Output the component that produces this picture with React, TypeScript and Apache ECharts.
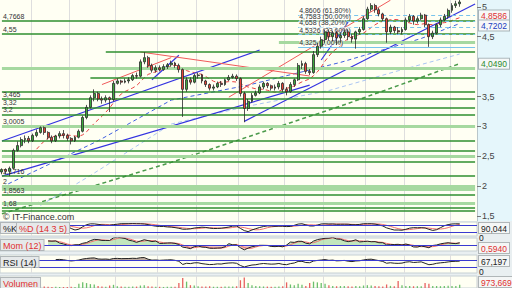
import React, { useEffect, useRef } from "react";
import * as echarts from "echarts";

// [open, close, low, high]
const candles: number[][] = [
  [2.24,2.28,2.20,2.30],[2.28,2.25,2.20,2.30],[2.25,2.30,2.17,2.33],[2.30,2.60,2.28,2.63],[2.60,2.68,2.58,2.75],
  [2.68,2.78,2.65,2.82],[2.78,2.80,2.72,2.85],[2.80,2.76,2.72,2.84],[2.76,2.85,2.74,2.88],[2.85,2.90,2.82,2.95],
  [2.90,2.98,2.88,3.00],[2.98,2.90,2.86,3.00],[2.90,2.82,2.78,2.92],[2.82,2.76,2.72,2.85],[2.76,2.84,2.74,2.86],
  [2.84,2.88,2.80,2.92],[2.88,2.85,2.80,2.94],[2.85,2.80,2.76,2.88],[2.80,2.76,2.70,2.82],[2.76,2.82,2.74,2.84],
  [2.82,2.92,2.80,2.95],[2.92,3.15,2.90,3.18],[3.15,3.32,3.12,3.36],[3.32,3.48,3.30,3.52],[3.48,3.55,3.42,3.62],
  [3.55,3.46,3.42,3.58],[3.46,3.44,3.38,3.50],[3.44,3.48,3.40,3.52],[3.48,3.45,3.24,3.50],[3.45,3.72,3.42,3.76],
  [3.72,3.76,3.70,3.80],[3.76,3.74,3.70,3.78],[3.74,3.76,3.72,3.80],[3.76,3.78,3.72,3.82],[3.78,3.85,3.76,3.88],
  [3.85,3.84,3.80,3.90],[3.84,4.08,3.82,4.12],[4.08,4.15,4.04,4.24],[4.15,4.02,3.98,4.18],[4.02,3.94,3.90,4.05],
  [3.94,3.98,3.90,4.02],[3.98,3.95,3.92,4.02],[3.95,4.00,3.93,4.04],[4.00,4.03,3.96,4.06],[4.03,4.06,4.00,4.10],
  [4.06,4.02,3.98,4.08],[4.02,3.95,3.90,4.05],[3.95,3.62,3.16,3.97],[3.62,3.78,3.58,3.82],[3.78,3.74,3.70,3.82],
  [3.74,3.85,3.72,3.88],[3.85,3.86,3.80,3.90],[3.86,3.76,3.72,3.88],[3.76,3.70,3.66,3.78],[3.70,3.64,3.60,3.72],
  [3.64,3.66,3.60,3.70],[3.66,3.72,3.64,3.75],[3.72,3.70,3.66,3.76],[3.70,3.78,3.68,3.80],[3.78,3.82,3.76,3.86],
  [3.82,3.84,3.80,3.88],[3.84,3.80,3.76,3.87],[3.80,3.55,3.50,3.82],[3.55,3.30,3.07,3.58],[3.30,3.42,3.26,3.46],
  [3.42,3.52,3.40,3.56],[3.52,3.56,3.50,3.60],[3.56,3.66,3.54,3.70],[3.66,3.72,3.62,3.75],[3.72,3.68,3.64,3.74],
  [3.68,3.64,3.60,3.70],[3.64,3.66,3.60,3.70],[3.66,3.72,3.62,3.76],[3.72,3.62,3.58,3.74],[3.62,3.58,3.52,3.66],
  [3.58,3.70,3.56,3.74],[3.70,3.78,3.66,3.80],[3.78,4.02,3.76,4.06],[4.02,4.05,3.96,4.10],[4.05,3.92,3.88,4.08],
  [3.92,3.90,3.86,3.96],[3.90,4.20,3.88,4.26],[4.20,4.34,4.16,4.40],[4.34,4.45,4.30,4.50],[4.45,4.58,4.40,4.62],
  [4.58,4.50,4.44,4.62],[4.50,4.56,4.42,4.60],[4.56,4.48,4.36,4.60],[4.48,4.52,4.40,4.56],[4.52,4.58,4.48,4.62],
  [4.58,4.50,4.44,4.62],[4.50,4.46,4.40,4.54],[4.46,4.58,4.30,4.60],[4.58,4.62,4.54,4.66],[4.62,4.80,4.60,4.84],
  [4.80,4.96,4.78,5.00],[4.96,5.02,4.92,5.06],[5.02,4.95,4.90,5.05],[4.95,4.88,4.84,4.98],[4.88,4.80,4.76,4.90],
  [4.80,4.58,4.40,4.82],[4.58,4.66,4.54,4.70],[4.66,4.60,4.56,4.68],[4.60,4.58,4.54,4.66],[4.58,4.62,4.54,4.66],
  [4.62,4.78,4.60,4.82],[4.78,4.84,4.74,4.88],[4.84,4.76,4.70,4.86],[4.76,4.80,4.72,4.84],[4.80,4.86,4.78,4.90],
  [4.86,4.70,4.66,4.88],[4.70,4.50,4.33,4.72],[4.50,4.56,4.46,4.60],[4.56,4.70,4.54,4.72],[4.70,4.78,4.66,4.82],
  [4.78,4.84,4.76,4.88],[4.84,4.94,4.80,4.97],[4.94,5.02,4.90,5.06],[5.02,5.05,4.98,5.10],[5.05,5.08,5.00,5.12],
];

const volumes: number[] = [
  150,120,180,400,300,250,200,150,180,220,250,200,160,150,170,140,130,150,160,140,
  600,800,700,550,500,300,200,180,350,450,250,200,180,170,220,200,350,400,250,200,
  180,170,150,160,180,170,700,1400,900,400,350,250,200,220,250,180,170,160,200,220,
  200,250,1100,1500,700,400,300,250,220,200,180,170,200,250,800,500,400,600,450,300,
  700,900,800,700,600,400,300,250,280,300,250,220,300,260,350,400,350,300,250,220,
  500,300,250,1000,400,300,280,250,260,240,700,600,300,280,260,300,320,300,280,450,
];

// month boundaries (candle index)
const monthStarts = [8, 18, 30, 41, 51, 62, 74, 84, 95, 105, 117];
const EXTRA_SLOTS = 4;

// horizontal support / resistance levels
const levelValues = [4.7668, 4.55, 4.41, 4.24, 3.98, 3.82, 3.585, 3.465, 3.32, 3.2, 3.0005, 2.756, 2.589, 2.5, 2.411, 2.1716, 2.0, 1.95, 1.8563, 1.715, 1.64, 1.587];
const levelStarts = [0, 0, 72, 27, 0, 23, 0, 0, 0, 0, 0, 0, 0, 0, 0, 0, 0, 0, 0, 0, 0, 0];
const levelKinds = ["d", "d", "l", "d", "l", "d", "d", "d", "d", "d", "l", "d", "d", "l", "d", "d", "l", "l", "d", "l", "d", "d"];
const levelLabels = ["4,7668", "4,55", "", "", "", "", "", "3,465", "3,32", "3,2", "3,0005", "", "", "", "", "2,1716", "2", "", "1,8563", "", "1,68", ""];

// Fibonacci retracement
const fibValues = [4.8606, 4.7583, 4.658, 4.5326, 4.325];
const fibLabels = ["4,8606 (61,80%)", "4,7583 (50,00%)", "4,658 (38,20%)", "4,5326 (23,60%)", "4,325 (0,00%)"];
const fibStart = 77;

// trend lines: [index, value] pairs
const blueTrends: number[][][] = [
  [[0, 2.17], [80, 3.69]],
  [[0, 2.756], [67, 4.277]],
  [[63, 3.085], [123, 5.046]],
  [[39, 3.78], [46, 4.19]],
  [[83, 4.11], [90, 4.745]],
];
const redTrends: number[][][] = [
  [[59, 3.49], [101, 5.11]],
  [[26, 3.70], [44, 4.15]],
  [[36, 4.244], [80, 3.843]],
];
// longer moving averages: [index, value]
const ma200Line: number[][] = [[0, 1.54], [44, 2.40], [88, 3.34], [119, 4.049]];
const ma100Line: number[][] = [[10, 1.68], [23, 2.18], [44, 3.04], [64, 3.34], [85, 3.60], [103, 3.93], [119, 4.21]];
const ma50Line: number[][] = [[0, 1.99], [25, 2.76], [44, 3.44], [64, 3.69], [88, 4.07], [109, 4.47], [119, 4.7202]];

const yTicks = [1.5, 2, 2.5, 3, 3.5, 4.5, 5];
const priceTags = [
  { value: 4.8586, text: "4,8586", color: "#e03030" },
  { value: 4.7202, text: "4,7202", color: "#2040c0" },
  { value: 4.049, text: "4,0490", color: "#2e8b2e" },
];
const panelTitles = [
  { text: "%K", color: "#222" },
  { text: "%D (14 3 5)", color: "#e03030" },
  { text: "Mom (12)", color: "#e03030" },
  { text: "RSI (14)", color: "#222" },
  { text: "Volumen", color: "#e03030" },
];
const panelTags = [
  { text: "90,044", color: "#222" },
  { text: "0", color: "#222" },
  { text: "0,5940", color: "#e03030" },
  { text: "67,197", color: "#222" },
  { text: "0", color: "#222" },
  { text: "973,669", color: "#e03030" },
];

function sma(arr: (number | null)[], n: number): (number | null)[] {
  return arr.map((_, i) => {
    if (i < n - 1) return null;
    let s = 0;
    for (let k = i - n + 1; k <= i; k++) s += arr[k] as number;
    return s / n;
  });
}
function smaPartial(arr: (number | null)[], n: number): (number | null)[] {
  return arr.map((_, i) => {
    let s = 0, c = 0;
    for (let k = Math.max(0, i - n + 1); k <= i; k++) {
      const v = arr[k];
      if (v != null) { s += v; c++; }
    }
    return c ? s / c : null;
  });
}

export default function App() {
  const ref = useRef<HTMLDivElement>(null);
  useEffect(() => {
    if (!ref.current) return;
    const chart = echarts.init(ref.current, null, { renderer: "svg" });
    const N = candles.length;
    const LAST = N + EXTRA_SLOTS - 1;
    const cats = Array.from({ length: N + EXTRA_SLOTS }, (_, i) => String(i));
    const closes = candles.map((c) => c[1]);
    const lows = candles.map((c) => c[2]);
    const highs = candles.map((c) => c[3]);

    // indicators computed from the candles
    const rawK = closes.map((c, i) => {
      const a = Math.max(0, i - 13);
      const ll = Math.min(...lows.slice(a, i + 1));
      const hh = Math.max(...highs.slice(a, i + 1));
      return hh > ll ? ((c - ll) / (hh - ll)) * 100 : 50;
    });
    const kLine = smaPartial(rawK, 3);
    const dLine = smaPartial(kLine, 5);
    const mom = closes.map((c, i) => (i >= 12 ? c - closes[i - 12] : null));
    const momSig = smaPartial(mom, 3);
    const rsi: (number | null)[] = closes.map(() => null);
    let ag = 0, al = 0;
    for (let i = 1; i < N; i++) {
      const d = closes[i] - closes[i - 1];
      const g = Math.max(d, 0), l = Math.max(-d, 0);
      if (i <= 14) { ag += g / 14; al += l / 14; }
      else { ag = (ag * 13 + g) / 14; al = (al * 13 + l) / 14; }
      if (i >= 14) rsi[i] = al === 0 ? 100 : 100 - 100 / (1 + ag / al);
    }
    const ma10 = sma(closes, 10);

    const darkGreen = "#2f8f2f";
    const lightGreen = "#a6d9a0";
    const lvlData: any[] = levelValues.map((v, k) => [
      {
        coord: [levelStarts[k], v],
        lineStyle: levelKinds[k] === "d" ? { color: darkGreen, width: 1.5, type: "solid" } : { color: lightGreen, width: 3, type: "solid" },
        label: {
          show: !!levelLabels[k], formatter: levelLabels[k], position: "insideStartTop", distance: 1,
          color: "#333", fontSize: 7, fontFamily: "Liberation Sans",
        },
      },
      { coord: [LAST, v] },
    ]);
    const fibData: any[] = fibValues.map((v, k) => [
      {
        coord: [fibStart, v],
        lineStyle: { color: "#78c4ec", width: 1, type: k === fibValues.length - 1 ? "solid" : [4, 3] },
        label: {
          show: true, formatter: fibLabels[k], position: "insideStartTop", distance: 1,
          color: "#333", fontSize: 7, fontFamily: "Liberation Sans",
          backgroundColor: "rgba(255,255,255,0.55)",
        },
      },
      { coord: [LAST, v] },
    ]);

    const gridCommon = { left: 0, width: 477, show: true, backgroundColor: "#fffff3", borderColor: "#c6d0d4", borderWidth: 1 };
    const grids = [
      { ...gridCommon, top: 0, height: 221, borderWidth: 0 },
      { ...gridCommon, top: 222, height: 14 },
      { ...gridCommon, top: 238, height: 13 },
      { ...gridCommon, top: 255, height: 18 },
      { ...gridCommon, top: 276, height: 16 },
    ];
    const xAxes = grids.map((_, gi) => ({
      type: "category", gridIndex: gi, data: cats, boundaryGap: true,
      axisLine: { show: false }, axisTick: { show: false }, axisLabel: { show: false },
      splitLine: { show: true, interval: (i: number) => monthStarts.indexOf(i) >= 0, lineStyle: { color: "#dedede", width: 1 } },
    }));
    const yAxes: any[] = [
      {
        type: "value", gridIndex: 0, position: "right", min: 1.42, max: 5.113,
        splitLine: { show: false },
        axisLine: { show: true, lineStyle: { color: "#b9c6ca" } },
        axisTick: { show: true, customValues: yTicks, length: 4, lineStyle: { color: "#777" } },
        axisLabel: {
          customValues: yTicks, formatter: (v: number) => String(v).replace(".", ","),
          color: "#444", fontSize: 9, fontFamily: "Liberation Sans", margin: 5,
        },
      },
      { type: "value", gridIndex: 1, min: -10, max: 110, show: false },
      { type: "value", gridIndex: 2, min: -0.7, max: 0.9, show: false },
      { type: "value", gridIndex: 3, min: 0, max: 100, show: false },
      { type: "value", gridIndex: 4, min: 0, max: 1700, show: false },
    ];

    const lineS = (data: any[], color: string, width: number, type: any, z: number, xi = 0) => ({
      type: "line", xAxisIndex: xi, yAxisIndex: xi, data, symbol: "none", silent: true, z,
      lineStyle: { color, width, type }, connectNulls: false,
    });
    const idx = (arr: (number | null)[]) => arr.map((v, i) => [i, v]);

    const series: any[] = [
      {
        type: "line", xAxisIndex: 0, yAxisIndex: 0, data: [], z: 1, silent: true,
        markLine: { silent: true, symbol: ["none", "none"], animation: false, data: [...lvlData, ...fibData] },
      },
      lineS(ma200Line, "#4a9a4a", 1.5, [4, 3], 2),
      lineS(ma100Line, "#a9c4f2", 1, [4, 3], 2),
      lineS(ma50Line, "#3f5fe0", 1, [4, 3], 2),
      lineS(idx(ma10), "#e84040", 1, [4, 3], 2),
      ...blueTrends.map((t) => lineS(t, "#3434e0", 1.2, "solid", 3)),
      ...redTrends.map((t) => lineS(t, "#f05a5a", 1, "solid", 3)),
      {
        type: "candlestick", xAxisIndex: 0, yAxisIndex: 0, data: candles, barWidth: 2.4, z: 5, silent: true,
        itemStyle: { color: "#3caa3c", color0: "#e8443a", borderColor: "#2a2a2a", borderColor0: "#2a2a2a", borderWidth: 0.8 },
      },
      // stochastic
      lineS(idx(dLine), "#f07070", 1, "solid", 3, 1),
      lineS(idx(kLine), "#222", 1, "solid", 4, 1),
      {
        type: "line", xAxisIndex: 1, yAxisIndex: 1, data: [], silent: true,
        markLine: { silent: true, symbol: ["none", "none"], data: [{ yAxis: 80 }, { yAxis: 20 }], lineStyle: { color: "#3a3ad0", width: 1, type: "solid" }, label: { show: false } },
      },
      // momentum
      {
        type: "line", xAxisIndex: 2, yAxisIndex: 2, data: mom.map((m, i) => [i, m == null ? null : Math.max(m, 0)]),
        symbol: "none", silent: true, lineStyle: { width: 0 }, areaStyle: { color: "#a8dca4", origin: 0 }, z: 2,
      },
      {
        type: "line", xAxisIndex: 2, yAxisIndex: 2, data: mom.map((m, i) => [i, m == null ? null : Math.min(m, 0)]),
        symbol: "none", silent: true, lineStyle: { width: 0 }, areaStyle: { color: "#e6a8a8", origin: 0 }, z: 2,
      },
      lineS(idx(momSig), "#f07070", 1, "solid", 3, 2),
      {
        ...lineS(idx(mom), "#222", 1, "solid", 4, 2),
        markLine: { silent: true, symbol: ["none", "none"], data: [{ yAxis: 0 }], lineStyle: { color: "#3a3ad0", width: 1, type: "solid" }, label: { show: false } },
      },
      // RSI
      { type: "line", xAxisIndex: 3, yAxisIndex: 3, stack: "up", data: rsi.map((r, i) => [i, r == null ? null : 70]), symbol: "none", silent: true, lineStyle: { width: 0 } },
      { type: "line", xAxisIndex: 3, yAxisIndex: 3, stack: "up", data: rsi.map((r, i) => [i, r == null ? null : Math.max(r - 70, 0)]), symbol: "none", silent: true, lineStyle: { width: 0 }, areaStyle: { color: "#b09a8c", opacity: 0.8 } },
      { type: "line", xAxisIndex: 3, yAxisIndex: 3, stack: "dn", data: rsi.map((r, i) => [i, r == null ? null : Math.min(r, 30)]), symbol: "none", silent: true, lineStyle: { width: 0 } },
      { type: "line", xAxisIndex: 3, yAxisIndex: 3, stack: "dn", data: rsi.map((r, i) => [i, r == null ? null : 30 - Math.min(r, 30)]), symbol: "none", silent: true, lineStyle: { width: 0 }, areaStyle: { color: "#b09a8c", opacity: 0.8 } },
      {
        ...lineS(idx(rsi), "#222", 1, "solid", 4, 3),
        markLine: { silent: true, symbol: ["none", "none"], data: [{ yAxis: 70 }, { yAxis: 30 }], lineStyle: { color: "#3a3ad0", width: 1, type: "solid" }, label: { show: false } },
      },
      // volume
      {
        type: "bar", xAxisIndex: 4, yAxisIndex: 4, barWidth: 1.3, silent: true,
        data: volumes.map((v, i) => ({ value: v, itemStyle: { color: candles[i][1] >= candles[i][0] ? "#6cc06c" : "#e86060" } })),
      },
    ];

    chart.setOption({
      animation: false,
      backgroundColor: "#e9eff1",
      grid: grids,
      xAxis: xAxes,
      yAxis: yAxes,
      series,
    });

    // price tags on the right axis, positioned from their values
    const tagH = 10;
    let prevBottom = -100;
    const tagGraphics: any[] = priceTags.map((t) => {
      const yc = chart.convertToPixel({ yAxisIndex: 0 }, t.value) as number;
      let top = yc - tagH / 2;
      if (top < prevBottom) top = prevBottom;
      if (top < 10.5) top = 10.5;
      prevBottom = top + tagH;
      return {
        type: "text", x: 479, y: top, z: 60,
        style: {
          text: t.text, fill: t.color, fontSize: 8.5, fontFamily: "Liberation Sans",
          backgroundColor: "#f6f8f8", borderColor: "#a8b4b8", borderWidth: 1, padding: [1, 2, 0, 2],
        },
      };
    });

    const titleY = [223, 223, 240, 257, 278];
    const titleX = [1, 17, 1, 1, 1];
    const tagY = [223, 233, 243, 256, 267, 277];
    const graphics: any[] = [
      { type: "rect", shape: { x: 477, y: 0, width: 35, height: 221 }, style: { fill: "#e5f6fb" }, z: -100, silent: true },
      { type: "text", x: 3, y: 212, style: { text: "© IT-Finance.com", fill: "#333", fontSize: 9, fontFamily: "Liberation Sans" }, z: 50 },
      ...tagGraphics,
      ...panelTitles.map((t, k) => ({
        type: "text", x: titleX[k], y: titleY[k], z: 50,
        style: { text: t.text, fill: t.color, fontSize: 9, fontFamily: "Liberation Sans", backgroundColor: "#e6e9ea", borderColor: "#b0b6b8", borderWidth: 1, padding: [1, 2, 0, 2] },
      })),
      ...panelTags.map((t, k) => ({
        type: "text", x: 479, y: tagY[k], z: 50,
        style: t.text === "0"
          ? { text: t.text, fill: t.color, fontSize: 8.5, fontFamily: "Liberation Sans" }
          : { text: t.text, fill: t.color, fontSize: 8.5, fontFamily: "Liberation Sans", backgroundColor: "#f4f6f6", borderColor: "#b0b6b8", borderWidth: 1, padding: [1, 2, 0, 2] },
      })),
    ];
    chart.setOption({ graphic: graphics });
    return () => chart.dispose();
  }, []);
  return <div ref={ref} style={{ position: "fixed", left: 0, top: 0, width: 512, height: 288 }} />;
}
